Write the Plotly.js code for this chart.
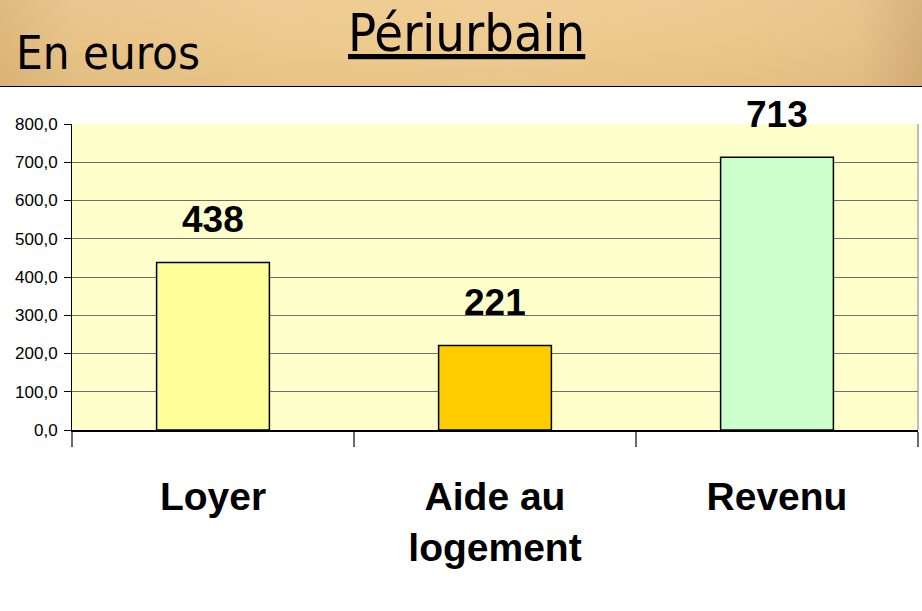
<!DOCTYPE html>
<html>
<head>
<meta charset="utf-8">
<script src="https://cdn.plot.ly/plotly-3.0.1.min.js"></script>
<style>
  html, body { margin:0; padding:0; background:#ffffff; }
  #wrap { position:relative; width:922px; height:611px; overflow:hidden; }
  #band { position:absolute; left:0; top:0; width:922px; height:86px;
    background:
      linear-gradient(180deg, rgba(255,245,220,0.06) 0%, rgba(0,0,0,0) 50%, rgba(120,80,20,0.05) 100%),
      linear-gradient(90deg, #ddb77c 0%, #e8c388 8%, #edc98e 30%, #eecb90 55%, #ecc78c 80%, #e7c288 93%, #d4ae77 100%);
    border-bottom:1px solid #000; }
  #chart { position:absolute; left:0; top:0; width:922px; height:611px; }
</style>
</head>
<body>
<div id="wrap">
  <div id="band"></div>
  <div id="chart"></div>
</div>
<script>
// ---- data ----
var categories = ["Loyer", "Aide au<br>logement", "Revenu"];
var values = [438, 221, 713];
var barColors = ["#FFFF99", "#FFCC00", "#CCFFCC"];
var valueLabels = ["438", "221", "713"];
var pageTitle = "Périurbain";
var unitLabel = "En euros";

// ---- layout geometry (pixels) ----
var W = 922, H = 611;
var L = 72, R = 4, T = 124, B = 181;
var plotW = W - L - R, plotH = H - T - B;
function px2x(px) { return (px - L) / plotW; }
function py2y(py) { return 1 + (T - py) / plotH; }

var boldFont = "'Liberation Sans', Arial, sans-serif";
var titleFont = "'DejaVu Sans Condensed', 'DejaVu Sans', sans-serif";

var trace = {
  type: "bar",
  x: categories,
  y: values,
  width: 0.4,
  marker: { color: barColors, line: { color: "#000000", width: 1.5 } },
  hoverinfo: "skip"
};

var annotations = values.map(function (v, i) {
  return {
    x: categories[i], y: v, xref: "x", yref: "y",
    text: valueLabels[i], showarrow: false,
    yanchor: "bottom", yshift: 20,
    font: { family: boldFont, size: 37, weight: "bold", color: "#000" }
  };
});
annotations.push({
  xref: "paper", yref: "paper", x: px2x(14), y: py2y(53),
  xanchor: "left", yanchor: "middle", showarrow: false,
  text: unitLabel,
  font: { family: titleFont, size: 47, color: "#000" }
});
annotations.push({
  xref: "paper", yref: "paper", x: px2x(466), y: py2y(33),
  xanchor: "center", yanchor: "middle", showarrow: false,
  text: "<u>" + pageTitle + "</u>",
  font: { family: titleFont, size: 52, color: "#000" }
});

var layout = {
  width: W, height: H,
  margin: { l: L, r: R, t: T, b: B, pad: 0 },
  paper_bgcolor: "rgba(0,0,0,0)",
  plot_bgcolor: "#FFFFCC",
  showlegend: false,
  bargap: 0.6,
  separators: ",.",
  xaxis: {
    type: "category",
    range: [-0.5, 2.5],
    tickson: "boundaries",
    ticks: "outside", ticklen: 15, tickwidth: 1.5, tickcolor: "#6a6a6a",
    showline: true, linecolor: "#000", linewidth: 1.5,
    showgrid: false,
    ticklabelstandoff: 32,
    tickfont: { family: boldFont, size: 39, weight: "bold", color: "#000" },
    fixedrange: true
  },
  yaxis: {
    range: [0, 800],
    dtick: 100, tick0: 0,
    tickformat: ".1f",
    ticks: "outside", ticklen: 7, tickwidth: 1, tickcolor: "#000",
    showline: true, linecolor: "#000", linewidth: 1, mirror: false,
    showgrid: true, gridcolor: "#6e6e6e", gridwidth: 1,
    zeroline: false,
    ticklabelstandoff: 3,
    tickfont: { family: "Liberation Sans, Arial, sans-serif", size: 17, color: "#000" },
    fixedrange: true
  },
  shapes: [{
    type: "line", xref: "paper", yref: "paper",
    x0: 1, x1: 1, y0: 0, y1: 1,
    line: { color: "#808080", width: 1 }
  }],
  annotations: annotations
};

Plotly.newPlot("chart", [trace], layout, { displayModeBar: false, staticPlot: true });
</script>
</body>
</html>
